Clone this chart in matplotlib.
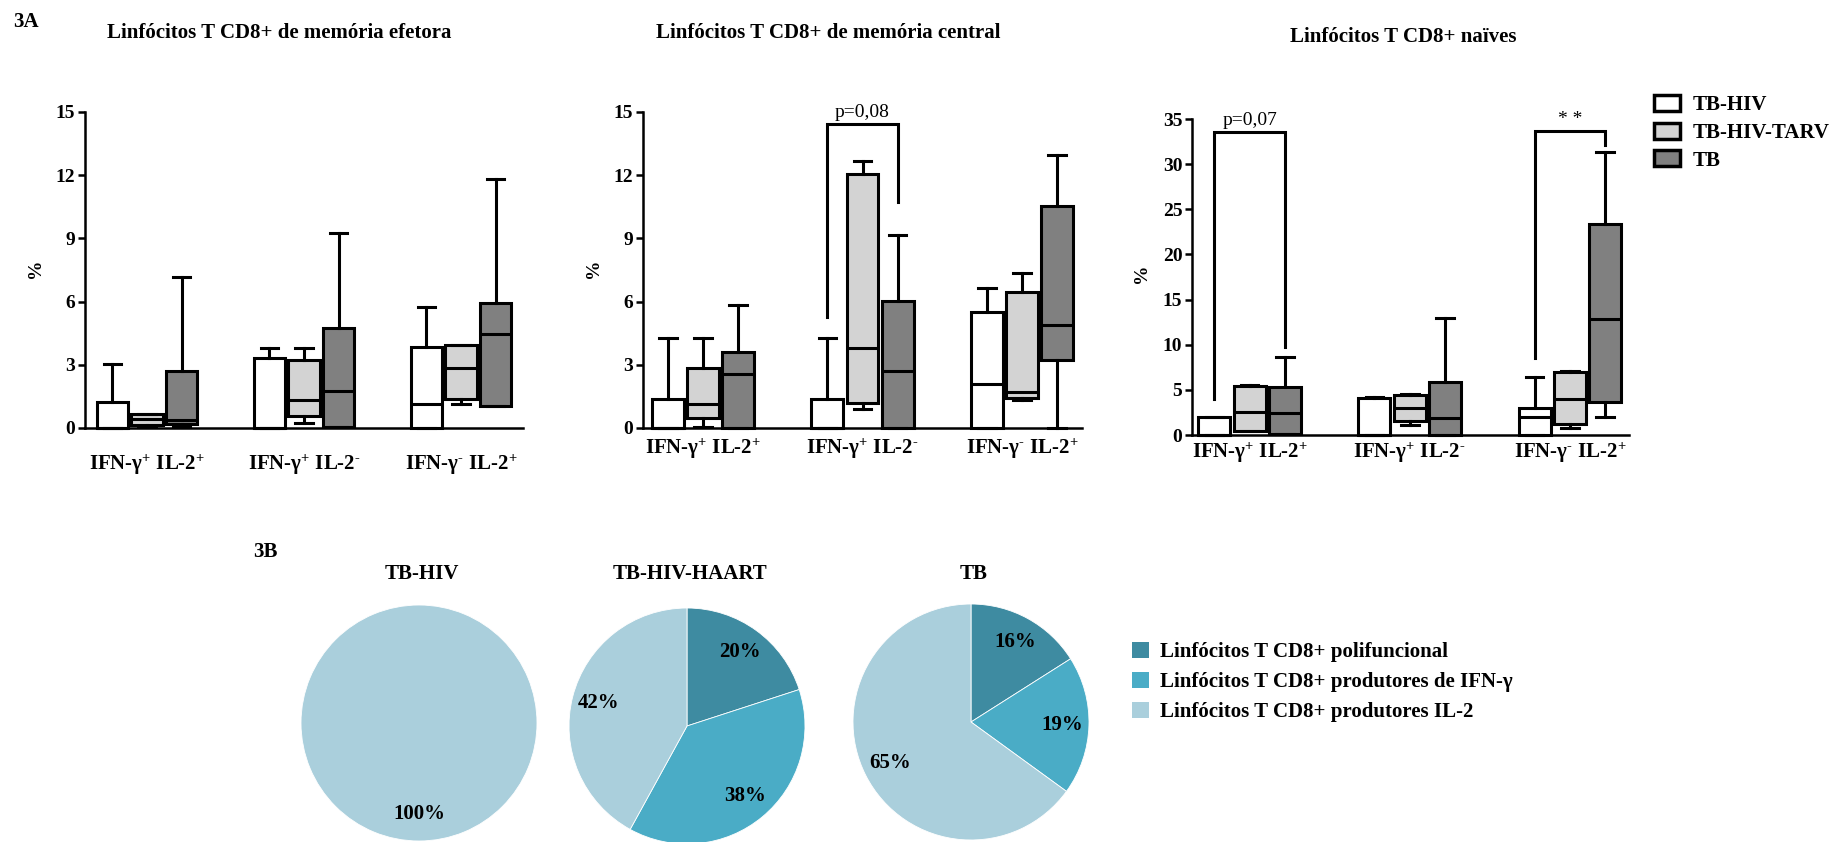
import matplotlib
matplotlib.use('Agg')
import matplotlib.pyplot as plt
from matplotlib.patches import Patch

plt.rcParams['font.family'] = ['Liberation Serif', 'DejaVu Serif']
plt.rcParams['font.weight'] = 'bold'
plt.rcParams['mathtext.fontset'] = 'custom'
plt.rcParams['mathtext.rm'] = 'Liberation Serif:bold'
plt.rcParams['mathtext.bf'] = 'Liberation Serif:bold'
plt.rcParams['mathtext.it'] = 'Liberation Serif:bold:italic'

W, H = 1838, 842

# --- data -----------------------------------------------------------------
categories = ['IFN-γ$^{+}$ IL-2$^{+}$', 'IFN-γ$^{+}$ IL-2$^{\\text{-}}$', 'IFN-γ$^{\\text{-}}$ IL-2$^{+}$']
groups = ['TB-HIV', 'TB-HIV-TARV', 'TB']
box_colors = ['white', '#d3d3d3', '#808080']

# (whisker low, q1, median, q3, whisker high) per category
efetora_tbhiv = [(0, 0, 0, 1.24, 3.04), (0, 0, 0, 3.30, 3.82), (0, 0, 1.16, 3.85, 5.74)]
efetora_tarv = [(0.05, 0.15, 0.44, 0.65, 0.65), (0.25, 0.57, 1.32, 3.22, 3.82), (1.13, 1.36, 2.87, 3.93, 3.93)]
efetora_tb = [(0.05, 0.2, 0.40, 2.70, 7.17), (0.05, 0.05, 1.74, 4.77, 9.26), (1.06, 1.06, 4.44, 5.95, 11.84)]

central_tbhiv = [(0, 0, 0, 1.36, 4.28), (0, 0, 0, 1.36, 4.28), (0, 0, 2.11, 5.49, 6.63)]
central_tarv = [(0.05, 0.49, 1.16, 2.85, 4.28), (0.92, 1.19, 3.82, 12.07, 12.68), (1.32, 1.43, 1.71, 6.47, 7.34)]
central_tb = [(0, 0, 2.58, 3.60, 5.83), (0, 0, 2.71, 6.04, 9.15), (0, 3.22, 4.89, 10.52, 12.94)]

naive_tbhiv = [(0, 0, 0, 2.03, 2.03), (0, 0, 0, 4.13, 4.24), (0, 0, 2.03, 2.95, 6.39)]
naive_tarv = [(0.4, 0.44, 2.58, 5.46, 5.54), (1.1, 1.55, 2.95, 4.43, 4.54), (0.81, 1.18, 3.95, 6.94, 7.09)]
naive_tb = [(0.1, 0.15, 2.47, 5.28, 8.6), (0, 0, 1.92, 5.9, 12.92), (2.03, 3.62, 12.81, 23.33, 31.38)]

# (category, first series, second series, bracket top, left leg end, right leg end, label)
central_brackets = [(1, 0, 2, 14.43, 5.25, 10.75, 'p=0,08')]
naive_brackets = [(0, 0, 2, 33.59, 3.95, 9.78, 'p=0,07'),
                  (2, 0, 2, 33.7, 8.49, 32.1, '* *')]

pie_groups = ['TB-HIV', 'TB-HIV-HAART', 'TB']
pie_labels = ['Linfócitos T CD8+ polifuncional',
              'Linfócitos T CD8+ produtores de IFN-γ',
              'Linfócitos T CD8+ produtores IL-2']
pie_tbhiv = [0, 0, 100]
pie_haart = [20, 38, 42]
pie_tb = [16, 19, 65]
pie_colors = ['#3e8ba1', '#4aacc6', '#aacfdc']

# --- layout helpers -------------------------------------------------------
fig = plt.figure(figsize=(W / 100, H / 100), dpi=100)


def px(x, y):
    return x / W, 1 - y / H


def rect(x0, y_top, x1, y_bot):
    return [x0 / W, 1 - y_bot / H, (x1 - x0) / W, (y_bot - y_top) / H]


offsets = [-0.22, 0.0, 0.22]
box_w = 0.2
LW = 2.2


def draw_panel(r, xlim, ylim, yticks, series, xpad, brackets):
    ax = fig.add_axes(r)
    for s, (data, color) in enumerate(zip(series, box_colors)):
        stats = [dict(whislo=d[0], q1=d[1], med=d[2], q3=d[3], whishi=d[4], fliers=[]) for d in data]
        pos = [g + offsets[s] for g in range(len(categories))]
        parts = ax.bxp(stats, positions=pos, widths=box_w, patch_artist=True, showfliers=False,
                       boxprops=dict(facecolor=color, edgecolor='black', linewidth=LW),
                       medianprops=dict(color='black', linewidth=LW, solid_capstyle='butt'),
                       whiskerprops=dict(color='black', linewidth=LW),
                       capprops=dict(color='black', linewidth=LW),
                       capwidths=box_w * 0.55, manage_ticks=False)
        for arts in parts.values():
            for a in arts:
                a.set_clip_on(False)
    for (g, a, b, top, ya, yb, label) in brackets:
        xa, xb = g + offsets[a], g + offsets[b]
        ax.plot([xa, xa, xb, xb], [ya, top, top, yb], color='black', lw=LW, clip_on=False,
                solid_joinstyle='miter')
        ax.annotate(label, ((xa + xb) / 2, top), xytext=(0, 2), textcoords='offset points',
                    ha='center', va='bottom', fontsize=14, fontweight='normal',
                    annotation_clip=False)
    ax.set_xlim(*xlim)
    ax.set_ylim(*ylim)
    ax.set_yticks(yticks)
    ax.set_xticks(range(len(categories)))
    ax.set_xticklabels(categories)
    for sp in ('top', 'right'):
        ax.spines[sp].set_visible(False)
    for sp in ('left', 'bottom'):
        ax.spines[sp].set_linewidth(1.8)
    ax.tick_params(axis='y', direction='out', length=5, width=1.8, labelsize=14, pad=2)
    ax.tick_params(axis='x', length=0, labelsize=15, pad=xpad)
    return ax


draw_panel(rect(85, 112, 523, 428), (-0.395, 2.395), (0, 15), range(0, 16, 3),
           [efetora_tbhiv, efetora_tarv, efetora_tb], 18, [])
draw_panel(rect(643, 112, 1082, 428), (-0.376, 2.376), (0, 15), range(0, 16, 3),
           [central_tbhiv, central_tarv, central_tb], 6, central_brackets)
draw_panel(rect(1192, 119, 1629, 435), (-0.36, 2.37), (0, 35), range(0, 36, 5),
           [naive_tbhiv, naive_tarv, naive_tb], 4, naive_brackets)

fig.text(*px(13, 22), '3A', fontsize=15, ha='left', va='center')
fig.text(*px(279, 33), 'Linfócitos T CD8+ de memória efetora', fontsize=15, ha='center', va='center')
fig.text(*px(828, 33), 'Linfócitos T CD8+ de memória central', fontsize=15, ha='center', va='center')
fig.text(*px(1403, 37), 'Linfócitos T CD8+ naïves', fontsize=15, ha='center', va='center')
for x, y in [(35, 268), (593, 268), (1141, 273)]:
    fig.text(*px(x, y), '%', fontsize=14, rotation=90, ha='center', va='center')

box_handles = [Patch(facecolor=c, edgecolor='black', linewidth=2.5, label=g)
               for c, g in zip(box_colors, groups)]
fig.legend(handles=box_handles, loc='upper left', bbox_to_anchor=px(1654, 95), frameon=False,
           fontsize=15, handlelength=1.25, handleheight=0.82, handletextpad=0.6,
           labelspacing=0.35, borderpad=0, borderaxespad=0)

# --- pies -----------------------------------------------------------------
fig.text(*px(253, 552), '3B', fontsize=15, ha='left', va='center')
pie_centers = [(419, 723), (687, 726), (971, 722)]
R = 120
for (cx, cy), title, vals in zip(pie_centers, pie_groups, [pie_tbhiv, pie_haart, pie_tb]):
    ax = fig.add_axes(rect(cx - R, cy - R, cx + R, cy + R))
    keep = [(v, c) for v, c in zip(vals, pie_colors) if v > 0]
    ax.pie([v for v, _ in keep], colors=[c for _, c in keep], startangle=90, counterclock=False,
           autopct='%d%%', pctdistance=0.77,
           wedgeprops=dict(edgecolor='white', linewidth=0.6),
           textprops=dict(fontsize=15, fontweight='bold', color='black'))
    ax.set_xlim(-1.017, 1.017)
    ax.set_ylim(-1.017, 1.017)
    ax.set_aspect('equal')
    ax.axis('off')
    fig.text(*px(cx + 3, 574), title, fontsize=15, ha='center', va='center')

pie_handles = [Patch(facecolor=c, edgecolor='none', label=l) for c, l in zip(pie_colors, pie_labels)]
fig.legend(handles=pie_handles, loc='upper left', bbox_to_anchor=px(1132, 642), frameon=False,
           fontsize=15, handlelength=0.82, handleheight=0.82, handletextpad=0.5,
           labelspacing=0.46, borderpad=0, borderaxespad=0)

fig.savefig('out.png', dpi=100, facecolor='white')
